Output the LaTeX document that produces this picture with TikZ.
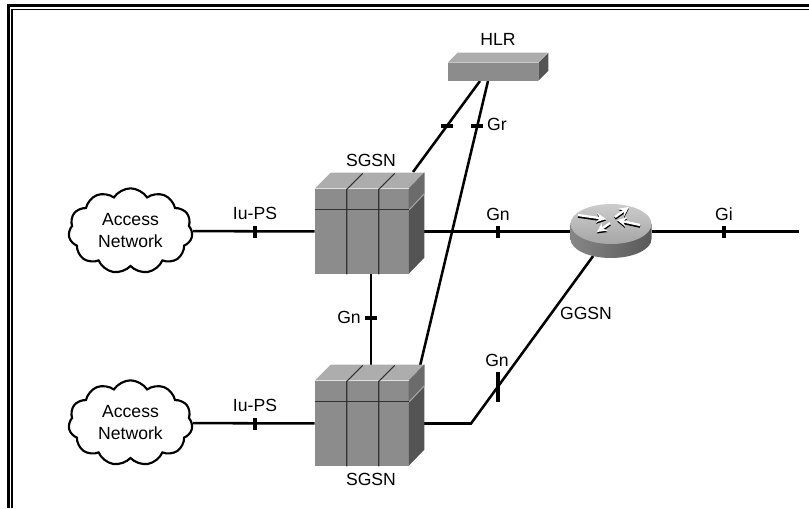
\documentclass[tikz,border=0pt]{standalone}
\usepackage{fontspec}
\setmainfont{Liberation Sans}
\usetikzlibrary{shapes.symbols,shapes.geometric,backgrounds,arrows.meta,calc}
\definecolor{faceFront}{gray}{0.55}
\definecolor{faceTop}{gray}{0.68}
\definecolor{faceSide}{gray}{0.33}
\definecolor{faceBand}{gray}{0.42}
\definecolor{faceEdge}{gray}{0.2}
% top and side faces of a box, drawn round its front node
\newcommand{\sgsnfaces}[1]{
  \fill[faceTop] (#1.north west) -- ++(16,-16) -- ++(94,0) -- ++(-15,16) -- cycle;
  \fill[faceSide] ($(#1.north east)+(-0.5,0)$) -- ++(15.5,-16) -- ++(0,85) -- ++(-15.5,16) -- cycle;
  \fill[faceBand] ($(#1.north east)+(-0.5,0)$) -- ++(15.5,-16) -- ++(0,21) -- ++(-15.5,16) -- cycle;
  \draw[gray!70,thick] ($(#1.north east)+(0,21)$) -- ++(15,-16);
  \draw[gray!25,thick] (#1.north west) -- (#1.north east);
  \foreach \xd in {32,64} {
    \draw[faceEdge,thick] ($(#1.south west)+(\xd,0)$) -- ++(0,-85) -- ++(16,-16);
  }
  \draw[faceEdge,thick] ($(#1.north west)+(0,21)$) -- ++(94,0);
}
\begin{document}
\begin{tikzpicture}[x=0.75pt,y=-0.75pt,
    cloudnet/.style ={cloud, cloud puffs=11, cloud puff arc=115, aspect=1.45, draw, line width=1.6pt,
      inner sep=0pt, minimum width=93pt, minimum height=64pt, fill=white, align=center, font=\labelfont},
    sgsnbox/.style ={rectangle, fill=faceFront, inner sep=0pt, minimum width=70.5pt, minimum height=63.75pt},
    hlrbox/.style ={rectangle, fill=faceFront, inner sep=0pt, minimum width=67.5pt, minimum height=13.5pt},
    routerarea/.style ={ellipse, inner sep=0pt, minimum width=61pt, minimum height=40.5pt},
    link/.style ={line width=1.9pt},
    vtick/.style ={rectangle, fill=black, inner sep=0pt, minimum width=3pt, minimum height=9pt},
    htick/.style ={rectangle, fill=black, inner sep=0pt, minimum width=9.5pt, minimum height=3pt},
    tag/.style ={inner sep=0pt, font=\labelfont}]
   \newcommand{\labelfont}{\fontsize{13.2}{16.5}\selectfont}
   \useasboundingbox (0,0) rectangle (809,508);
   % frame
   \draw[line width=1.8pt] (8.5,508) -- (8.5,5.5) -- (809,5.5);
   \draw[line width=1.2pt] (12,508) -- (12,9.5) -- (809,9.5);
   % equipment
   \node[cloudnet] (accessA) at (130.5,231) {Access\\Network};
   \node[cloudnet] (accessB) at (130.5,423) {Access\\Network};
   \node[sgsnbox] (sgsnA) at (362,231.5) {};
   \node[sgsnbox] (sgsnB) at (362,423.5) {};
   \node[hlrbox] (hlr) at (493,72) {};
   \node[routerarea] (ggsn) at (611,231.5) {};
   \coordinate (hlrL) at (480,81);
   \coordinate (hlrR) at (488,81);
   \coordinate (sgsnAtop) at (413,172);
   \coordinate (sgsnBtop) at (420,366);
   \coordinate (bend) at (471,423.5);
   \coordinate (giEnd) at (799,231.5);
   \sgsnfaces{sgsnA}
   \sgsnfaces{sgsnB}
   % HLR faces
   \fill[faceTop] (hlr.north west) -- ++(10,-10) -- ++(90,0) -- ++(-10,10) -- cycle;
   \fill[faceSide] (hlr.north east) -- ++(10,-10) -- ++(0,18) -- ++(-10,10) -- cycle;
   % GGSN
   \shade[left color=gray!95, middle color=white, right color=black!65]
     (570.5,224) -- (570.5,239) arc [start angle=180, end angle=0, x radius=40.5, y radius=19] -- (651.5,224) -- cycle;
   \shade[top color=gray!40, bottom color=gray!70] (611,224) ellipse [x radius=40.5, y radius=20];
   \foreach \ax/\ay/\bx/\by in {578/215/606/219, 615/217/629/207, 640/225/617/220, 610/223/597/232} {
     \draw[black,line width=2pt,-{Stealth[length=7pt,width=7pt]}] (\ax,\ay+1.5) -- (\bx,\by+1.5);
     \draw[white,line width=1.7pt,-{Stealth[length=7pt,width=7pt]}] (\ax,\ay) -- (\bx,\by);
   }
   % ticks
   \node[vtick] (tickIuA) at (255,231.5) {};
   \node[vtick] (tickIuB) at (255,423.5) {};
   \node[vtick] (tickGnA) at (498,231.5) {};
   \node[vtick] (tickGi) at (724,231.5) {};
   \node[htick] (tickGnV) at (371,318) {};
   \node[htick] (tickGrL) at (447,126) {};
   \node[htick] (tickGrR) at (477,126) {};
   \node[vtick, minimum height=23pt] (tickGnB) at (498,387) {};
   % links
   \begin{pgfonlayer}{background}
     \draw[link] (accessA) -- (sgsnA);
     \draw[link] (accessB) -- (sgsnB);
     \draw[link] (sgsnA) -- (ggsn);
     \draw[link] (ggsn) -- (giEnd);
     \draw[link] (tickGnV |- sgsnA.south) -- (tickGnV |- sgsnB.north);
     \draw[link] (hlrL) -- (sgsnAtop);
     \draw[link] (hlrR) -- (sgsnBtop);
     \draw[link] (sgsnB) -- (bend) -- (ggsn);
   \end{pgfonlayer}
   % labels
   \node[tag] (hlrTag) at (498,39) {HLR};
   \node[tag] (sgsnTagA) at (371,160) {SGSN};
   \node[tag] (sgsnTagB) at (371,479) {SGSN};
   \node[tag] (ggsnTag) at (586,313) {GGSN};
   \node[tag] (grTag) at (497,124) {Gr};
   \node[tag] (iuTagA) at (255,213) {Iu-PS};
   \node[tag] (iuTagB) at (255,405) {Iu-PS};
   \node[tag] (gnTagA) at (498,214) {Gn};
   \node[tag] (gnTagV) at (349,317) {Gn};
   \node[tag] (gnTagB) at (497,360) {Gn};
   \node[tag] (giTag) at (724,214) {Gi};
 \end{tikzpicture}
\end{document}
